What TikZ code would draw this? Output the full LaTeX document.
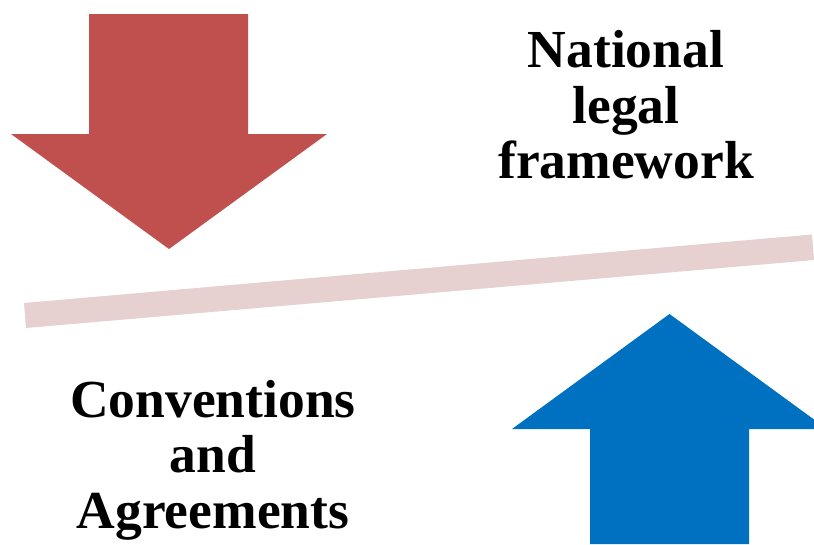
\documentclass[tikz,border=0pt]{standalone}
\usepackage{fontspec}
\setmainfont{Liberation Serif}
\definecolor{redarrow}{HTML}{C0504D}
\definecolor{bluearrow}{HTML}{0070C0}
\definecolor{barpink}{HTML}{E7D0D0}
\tikzset{lbl/.style={font=\bfseries\fontsize{53.5}{55.5}\selectfont,align=center,text=black,inner sep=0pt}}
\begin{document}
\begin{tikzpicture}[x=1pt,y=-1pt]
\useasboundingbox (0,0) rectangle (814,544);
\fill[redarrow] (89,14) -- (248,14) -- (248,134) -- (327,134) -- (169,249) -- (11,134) -- (89,134) -- cycle;
\fill[bluearrow] (590,544) -- (749,544) -- (749,429) -- (814,429) -- (814,419.5) -- (669.5,314) -- (512,429) -- (590,429) -- cycle;
\fill[barpink] (24,303) -- (812,234.5) -- (814,260) -- (26,328) -- cycle;
\node[lbl] (nat) at (626,105) {National\\legal\\framework};
\node[lbl] (conv) at (213,460) {Conventions\\and\\Agreements};
\end{tikzpicture}
\end{document}
